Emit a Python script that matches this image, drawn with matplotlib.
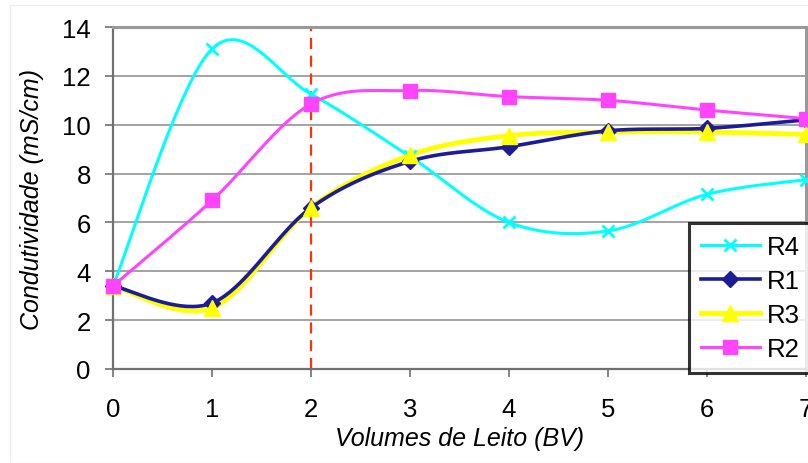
import numpy as np
import matplotlib
matplotlib.use("Agg")
import matplotlib.pyplot as plt
from matplotlib.lines import Line2D
from matplotlib.patches import Rectangle

plt.rcParams['font.family'] = ['Liberation Sans', 'DejaVu Sans']

bv = [0, 1, 2, 3, 4, 5, 6, 7]
r4 = [3.4, 13.1, 11.25, 8.7, 6.0, 5.65, 7.15, 7.75]
r1 = [3.4, 2.7, 6.6, 8.5, 9.1, 9.75, 9.85, 10.2]
r3 = [3.4, 2.5, 6.6, 8.75, 9.55, 9.7, 9.7, 9.6]
r2 = [3.4, 6.9, 10.85, 11.4, 11.15, 11.0, 10.6, 10.25]
x_ticks = [0, 1, 2, 3, 4, 5, 6, 7]
y_ticks = [0, 2, 4, 6, 8, 10, 12, 14]
breakthrough_bv = 2


def smooth(x, y, n=40):
    """Excel-like smoothed line (Catmull-Rom converted to cubic Bezier)."""
    P = np.column_stack([x, y]).astype(float)
    m = len(P)
    out = []
    for i in range(m - 1):
        p0 = P[i - 1] if i > 0 else P[i]
        p1 = P[i]
        p2 = P[i + 1]
        p3 = P[i + 2] if i + 2 < m else P[i + 1]
        c1 = p1 + (p2 - p0) / 6.0
        c2 = p2 - (p3 - p1) / 6.0
        t = np.linspace(0, 1, n)[:, None]
        seg = ((1 - t) ** 3) * p1 + 3 * ((1 - t) ** 2) * t * c1 + 3 * (1 - t) * t ** 2 * c2 + t ** 3 * p2
        out.append(seg if i == 0 else seg[1:])
    s = np.vstack(out)
    return s[:, 0], s[:, 1]


W, H = 808, 464
fig = plt.figure(figsize=(W / 100, H / 100), dpi=100)
fig.patches.append(Rectangle((10 / W, 0), 1, 1 - 6 / H, transform=fig.transFigure,
                             fill=False, edgecolor='#eeeeee', linewidth=1, zorder=0))
ax = fig.add_axes([113 / W, (H - 370) / H, 693 / W, 342 / H])

series = [
    ('R4', r4, '#00FFFF', 'x', 2.2, 9, 2.0),
    ('R1', r1, '#1C1C96', 'D', 2.6, 8, 1.0),
    ('R3', r3, '#FFFF00', '^', 3.5, 11, 1.0),
    ('R2', r2, '#FF44FF', 's', 2.2, 10.5, 1.0),
]
line_z = {'R4': 3, 'R3': 4, 'R1': 5, 'R2': 6}
handles = []
for k, (name, vals, col, mk, lw, ms, mew) in enumerate(series):
    sx, sy = smooth(bv, vals)
    ax.plot(sx, sy, color=col, lw=lw, zorder=line_z[name], solid_capstyle='round')
    ax.plot(bv, vals, linestyle='none', marker=mk, color=col, markersize=ms,
            markeredgewidth=(2.0 if mk == 'x' else mew), markeredgecolor=col,
            zorder=10 + k, clip_on=False)
    handles.append(Line2D([0], [0], color=col, lw=lw, marker=mk, markersize=ms,
                          markeredgewidth=(2.0 if mk == 'x' else mew), markeredgecolor=col))

ax.axvline(breakthrough_bv, color='#FF3300', lw=1.6, linestyle=(0, (5, 3)), zorder=2)

ax.set_xlim(0, 7)
ax.set_ylim(0, 14)
ax.set_xticks(x_ticks)
ax.set_yticks(y_ticks)
ax.tick_params(axis='both', labelsize=18.5, length=6, width=1.2, color='#707070',
               direction='out')
ax.tick_params(axis='x', pad=14)
ax.tick_params(axis='y', pad=10)
ax.grid(axis='y', color='#8a8a8a', lw=1.1, zorder=1)
ax.set_axisbelow(True)
for s in ['left', 'bottom']:
    ax.spines[s].set_color('#707070')
    ax.spines[s].set_linewidth(1.6)
for s in ['top', 'right']:
    ax.spines[s].set_color('#999999')
    ax.spines[s].set_linewidth(2.2)

ax.set_xlabel('Volumes de Leito (BV)', fontsize=18, style='italic', labelpad=4)
ax.set_ylabel('Condutividade (mS/cm)', fontsize=18, style='italic', labelpad=13)

LEG_FS = 18.5
LEG_LEFT, LEG_TOP, LEG_HEIGHT = 689, 224, 150  # target pixel box (from top-left)


def make_legend(ls, top_px):
    lg = fig.legend(handles, [s[0] for s in series], loc='upper left',
                    bbox_to_anchor=(LEG_LEFT / W, 1 - top_px / H),
                    bbox_transform=fig.transFigure, fontsize=LEG_FS,
                    frameon=True, fancybox=False, handlelength=2.3, handletextpad=0.3,
                    labelspacing=ls, borderpad=0.45, borderaxespad=0)
    fr = lg.get_frame()
    fr.set_edgecolor('black')
    fr.set_linewidth(2.2)
    fr.set_facecolor('white')
    lg.set_zorder(20)
    return lg


ls = 0.75
top = LEG_TOP
leg = make_legend(ls, top)
for _ in range(3):
    fig.canvas.draw()
    bb = leg.get_window_extent()
    h = bb.height
    cur_top = H - bb.y1
    leg.remove()
    ls = max(0.05, ls + (LEG_HEIGHT - h) / (3 * LEG_FS * 100 / 72))
    top = top + (LEG_TOP - cur_top)
    leg = make_legend(ls, top)

fig.savefig('out.png', dpi=100)
